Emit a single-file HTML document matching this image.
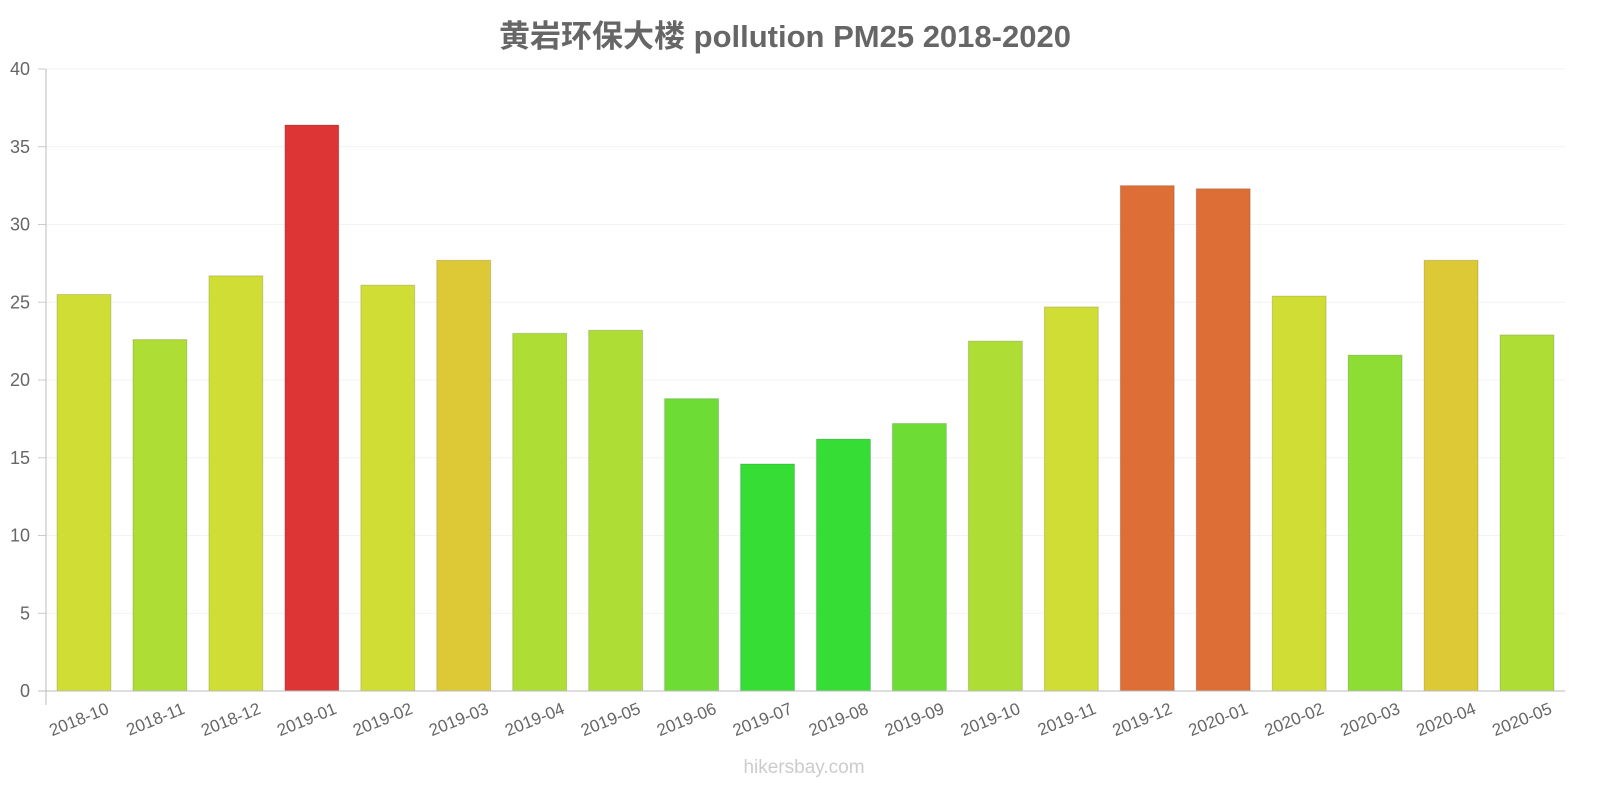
<!DOCTYPE html>
<html><head><meta charset="utf-8"><style>
body{margin:0;background:#fff;}
svg{display:block;font-family:"Liberation Sans","Noto Sans CJK SC",sans-serif;}
</style></head><body>
<svg id="chart" width="1600" height="800">
<text x="785" y="47" text-anchor="middle" font-size="31" font-weight="bold" fill="#666">黄岩环保大楼 pollution PM25 2018-2020</text>
<text x="804" y="773" text-anchor="middle" font-size="19" fill="#ccc">hikersbay.com</text>
<g id="grid"></g><g id="bars"></g><g id="axes"></g>
</svg>
<script>
const categories=["2018-10","2018-11","2018-12","2019-01","2019-02","2019-03","2019-04","2019-05","2019-06","2019-07","2019-08","2019-09","2019-10","2019-11","2019-12","2020-01","2020-02","2020-03","2020-04","2020-05"];
const values=[25.5,22.6,26.7,36.4,26.1,27.7,23.0,23.2,18.8,14.6,16.2,17.2,22.5,24.7,32.5,32.3,25.4,21.6,27.7,22.9];
const colors=["#cfdd35","#aedd35","#cfdd35","#dd3535","#cfdd35","#ddc835","#aedd35","#aedd35","#6ddd35","#35dd35","#35dd35","#6ddd35","#aedd35","#cfdd35","#dd6e35","#dd6e35","#cfdd35","#8ddd35","#ddc835","#aedd35"];
const yTicks=[0,5,10,15,20,25,30,35,40];
const NS="http://www.w3.org/2000/svg";
const x0=46,x1=1565,y0=691,y1=69,yMax=40;
const band=(x1-x0)/categories.length;
const y=v=>y0-(v/yMax)*(y0-y1);
const xc=i=>x0+band*(i+0.5);
function mk(t,a,p){const e=document.createElementNS(NS,t);for(const k in a)e.setAttribute(k,a[k]);p.appendChild(e);return e;}
const grid=document.getElementById('grid'),bars=document.getElementById('bars'),axes=document.getElementById('axes');
yTicks.forEach(t=>{
 const l=mk('line',{x1:x0,x2:x1,y1:y(t),y2:y(t),stroke:'#f3f3f3'},grid);
 
 
 const tx=mk('text',{x:30,y:y(t)+6,'text-anchor':'end','font-size':18,fill:'#666'},axes);
 tx.textContent=t;
 
 
 mk('line',{x1:x0-8,x2:x0,y1:y(t),y2:y(t),stroke:'#ccc'},axes);
});
values.forEach((v,i)=>{
 const w=band*0.71;
 const r=mk('rect',{x:xc(i)-w/2,y:y(v),width:w,height:y0-y(v),fill:colors[i],stroke:'rgba(0,0,0,0.15)','stroke-width':1},bars);
 
 
 const tx=mk('text',{x:xc(i)+26,y:y0+22,'text-anchor':'end','font-size':17,fill:'#666',transform:`rotate(-22 ${xc(i)+26} ${y0+22})`},axes);
 tx.textContent=categories[i];
 
 
});
let a=mk('line',{x1:x0,x2:x0,y1:y1,y2:y0+14,stroke:'#bbb'},axes);


a=mk('line',{x1:x0-8,x2:x1,y1:y0,y2:y0,stroke:'#bbb'},axes);


</script>
</body></html>
